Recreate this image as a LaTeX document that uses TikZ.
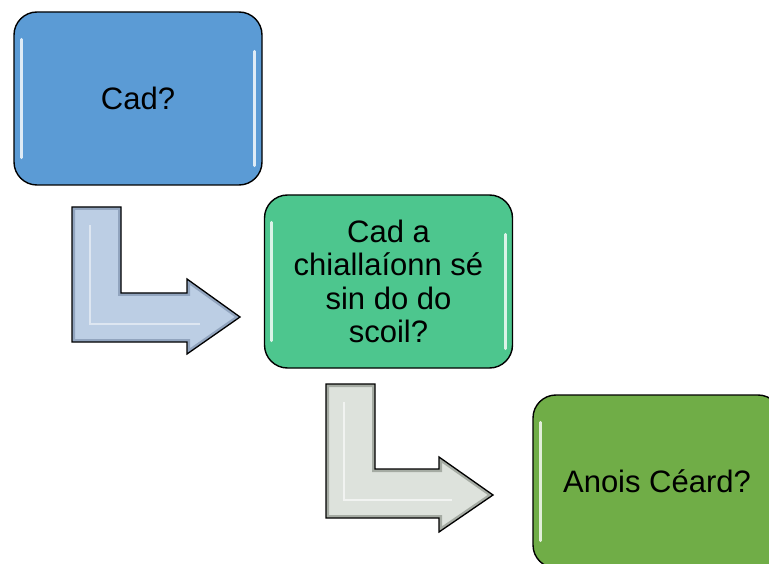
\documentclass[tikz,border=0pt]{standalone}
\usepackage{fontspec}
\setmainfont{Liberation Sans}
\definecolor{boxblue}{HTML}{5B9BD5}
\definecolor{boxmint}{HTML}{4DC68E}
\definecolor{boxgreen}{HTML}{70AD47}
\definecolor{arrblue}{HTML}{BCCEE4}
\definecolor{arrblueedge}{HTML}{7F93AE}
\definecolor{arrgray}{HTML}{DDE2DC}
\definecolor{arrgrayedge}{HTML}{8E958C}
\tikzset{
  stepbox/.style={draw=black, line width=1.4pt, rounded corners=23pt,
    minimum width=248pt, minimum height=173pt, align=center,
    font=\fontsize{31}{33.5}\selectfont, text=black},
  gloss/.style={white, line width=3pt, line cap=round, opacity=0.8},
  arrowline/.style={draw=black, line width=1.3pt, line join=miter}
}
\begin{document}
\begin{tikzpicture}[x=1pt,y=-1pt]
\useasboundingbox (0,0) rectangle (769,564);

% boxes
\node[stepbox, fill=boxblue] (b1) at (138,98.5) {Cad?};
\node[stepbox, fill=boxmint] (b2) at (388.5,281.5) {Cad a\\chiallaíonn sé\\sin do do\\scoil?};
\node[stepbox, fill=boxgreen] (b3) at (657,481.5) {Anois Céard?};

% gloss highlights
\foreach \b in {b1,b2,b3}{
  \draw[gloss] ([xshift=8pt,yshift=-28pt]\b.north west) -- ([xshift=8pt,yshift=28pt]\b.south west);
  \draw[gloss] ([xshift=-8pt,yshift=-40pt]\b.north east) -- ([xshift=-8pt,yshift=20pt]\b.south east);
}

% bent arrow 1
\def\arrA{(72,207) -- (121,207) -- (121,293) -- (187,293) -- (187,279) -- (240,317) -- (187,354) -- (187,342) -- (72,342) -- cycle}
\fill[arrblue] \arrA;
\begin{scope}
  \clip \arrA;
  \draw[arrblueedge, line width=6pt, opacity=0.7] \arrA;
  \draw[white, line width=2pt, opacity=0.5] (90,225) -- (90,324) -- (200,324);
\end{scope}
\draw[arrowline] \arrA;

% bent arrow 2
\def\arrB{(326,384) -- (375,384) -- (375,469) -- (439,469) -- (439,457) -- (493,495) -- (439,532) -- (439,518) -- (326,518) -- cycle}
\fill[arrgray] \arrB;
\begin{scope}
  \clip \arrB;
  \draw[arrgrayedge, line width=6pt, opacity=0.7] \arrB;
  \draw[white, line width=2pt, opacity=0.6] (344,402) -- (344,500) -- (452,500);
\end{scope}
\draw[arrowline] \arrB;
\end{tikzpicture}
\end{document}
